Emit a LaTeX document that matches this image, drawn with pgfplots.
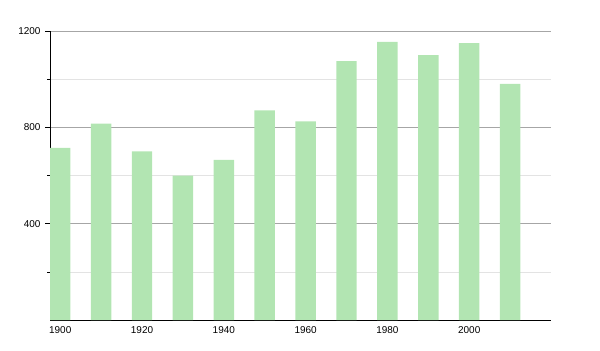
\documentclass[border=0pt]{standalone}
\usepackage{pgfplots}
\pgfplotsset{compat=1.18}
\usepackage{fontspec}
\setmainfont{Liberation Sans}
\definecolor{barg}{RGB}{178,229,178}
\begin{document}
\begin{tikzpicture}[x=1bp,y=1bp]
\useasboundingbox (0,0) rectangle (600,350);
\begin{axis}[
  at={(50bp,30bp)}, anchor=south west,
  scale only axis, width=501bp, height=289bp,
  xmin=1897.5, xmax=2020, ymin=0, ymax=1200,
  axis x line=bottom, axis y line=left,
  axis line style={-, black, line width=0.8pt},
  ytick={400,800,1200}, minor ytick={200,600,1000},
  xtick={1900,1920,...,2000},
  x tick style={draw=none},
  y tick style={black, line width=0.6pt},
  tick align=outside, major tick length=5bp, minor tick length=3bp,
  ymajorgrids, yminorgrids,
  major grid style={draw=gray!70, line width=0.6pt},
  minor grid style={draw=gray!22, line width=0.6pt},
  ticklabel style={font=\fontsize{10}{12}\selectfont},
  /pgf/number format/assume math mode=true,
  /pgf/number format/1000 sep={},
  xticklabel style={yshift=2bp},
  yticklabel style={xshift=-1bp},
  ybar, bar width=5,
]
\addplot[fill=barg, draw=none] coordinates {
(1900,715) (1910,815) (1920,700) (1930,600) (1940,665) (1950,870)
(1960,825) (1970,1075) (1980,1155) (1990,1100) (2000,1150) (2010,980)
};
\end{axis}
\end{tikzpicture}
\end{document}
